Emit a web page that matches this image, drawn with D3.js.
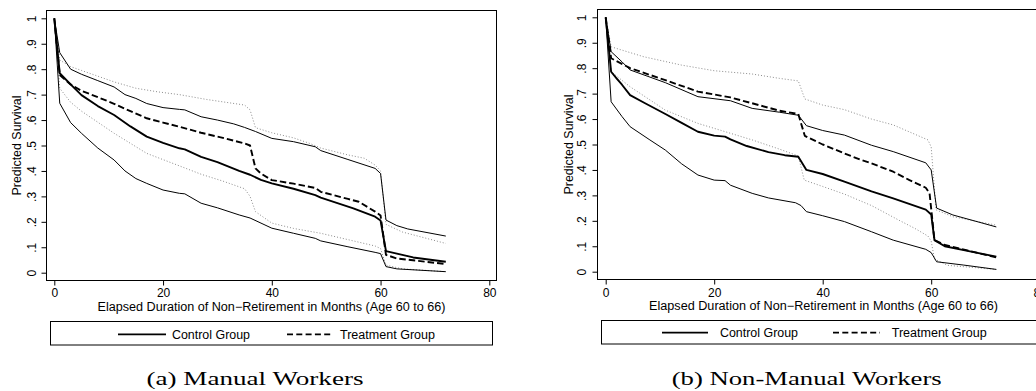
<!DOCTYPE html>
<html>
<head>
<meta charset="utf-8">
<script src="https://cdn.jsdelivr.net/npm/d3@7"></script>
<style>
  html, body { margin: 0; padding: 0; background: #fff; }
  svg { display: block; }
  .sans { font-family: "Liberation Sans", Arial, Helvetica, sans-serif; }
  .serif { font-family: "Liberation Serif", "DejaVu Serif", serif; }
</style>
</head>
<body>
<svg id="chart" width="1036" height="391"></svg>
<script>
// ---------------- DATA ----------------
const xTicks = [0, 20, 40, 60, 80];
const yTicks = [0, .1, .2, .3, .4, .5, .6, .7, .8, .9, 1];
const yTickLabels = ["0", ".1", ".2", ".3", ".4", ".5", ".6", ".7", ".8", ".9", "1"];
const legendLabels = ["Control Group", "Treatment Group"];
const xTitle = "Elapsed Duration of Non\u2212Retirement in Months (Age 60 to 66)";
const yTitle = "Predicted Survival";
const captions = ["(a) Manual Workers", "(b) Non-Manual Workers"];

// Manual workers: [month, predicted survival]
const manualControl = [[0,1],[1,.784],[3,.74],[5,.698],[8,.655],[11,.62],[14,.575],[17,.535],[20,.51],[23,.489],[24,.485],[27,.455],[30,.435],[34,.40],[36,.385],[38,.365],[40,.351],[44,.33],[48,.305],[49,.295],[55,.253],[59,.22],[60,.205],[61,.085],[63,.075],[66,.06],[72,.043]];
const manualControlUpper = [[0,1],[1,.865],[3,.80],[5,.78],[8,.755],[11,.73],[13,.70],[15,.685],[17,.665],[20,.649],[23,.642],[24,.64],[27,.613],[30,.60],[33,.585],[35,.571],[37,.555],[40,.528],[44,.515],[48,.495],[49,.48],[54,.445],[59,.41],[60,.39],[61,.207],[63,.185],[65,.172],[72,.144]];
const manualControlLower = [[0,1],[1,.666],[3,.59],[5,.548],[8,.49],[11,.443],[13,.40],[15,.37],[17,.351],[20,.325],[23,.312],[24,.31],[27,.273],[30,.255],[34,.227],[36,.215],[40,.175],[44,.155],[48,.135],[49,.125],[54,.102],[59,.08],[60,.075],[61,.024],[63,.015],[72,.004]];
const manualTreat = [[0,1],[1,.777],[3,.74],[5,.715],[8,.69],[11,.664],[14,.635],[17,.607],[20,.59],[23,.574],[27,.55],[31,.53],[35,.508],[36,.50],[37,.41],[38,.39],[40,.364],[44,.35],[48,.333],[49,.318],[54,.29],[56,.279],[59,.24],[60,.225],[61,.07],[63,.056],[72,.034]];
const manualTreatUpper = [[0,1],[1,.836],[3,.81],[5,.795],[11,.75],[15,.725],[19,.711],[23,.70],[28,.681],[35,.659],[36,.64],[37,.57],[40,.55],[44,.53],[47,.508],[49,.49],[54,.463],[57,.45],[59,.423],[60,.40],[61,.19],[64,.16],[72,.115]];
const manualTreatLower = [[0,1],[1,.725],[3,.67],[5,.635],[11,.548],[17,.469],[23,.42],[27,.387],[31,.36],[35,.33],[36,.30],[37,.24],[40,.195],[44,.174],[49,.155],[54,.13],[59,.105],[60,.095],[61,.03],[64,.015],[72,.004]];

// Non-manual workers
const nonManualControl = [[0,1],[1,.786],[2,.76],[3,.735],[4.5,.694],[7,.665],[11,.62],[14,.585],[17,.55],[20,.535],[22,.531],[23,.52],[26,.494],[30,.47],[33,.458],[35.5,.452],[37,.40],[40,.384],[44,.354],[49,.316],[53,.288],[59,.244],[60,.225],[60.6,.124],[62.5,.10],[66,.085],[72,.059]];
const nonManualControlUpper = [[0,1],[1,.865],[3,.825],[4.5,.793],[11,.743],[17,.688],[23,.672],[27,.642],[32,.627],[35.5,.615],[37,.574],[40,.555],[44,.537],[49,.497],[53,.472],[59,.428],[60,.40],[61,.25],[64,.223],[72,.176]];
const nonManualControlLower = [[0,1],[1,.668],[3,.61],[4.5,.57],[8,.52],[11,.478],[14,.424],[17,.38],[20,.36],[22,.358],[23,.34],[27,.308],[30,.29],[35,.271],[36,.26],[37,.236],[40,.22],[44,.197],[49,.157],[53,.124],[59,.088],[60,.075],[61,.039],[66,.026],[72,.009]];
const nonManualTreat = [[0,1],[1,.839],[4.5,.80],[11,.753],[17,.708],[23,.685],[27,.662],[32,.633],[35.5,.62],[36.7,.534],[40,.50],[44,.465],[47,.44],[49,.426],[53,.393],[56,.36],[59,.33],[59.7,.308],[60.6,.124],[62.5,.105],[72,.056]];
const nonManualTreatUpper = [[0,1],[1,.884],[7,.845],[14,.812],[20,.79],[27,.777],[32,.76],[35.5,.75],[36.7,.679],[40,.655],[44,.637],[49,.60],[53,.577],[59.4,.518],[60,.49],[60.9,.243],[64,.216],[72,.183]];
const nonManualTreatLower = [[0,1],[1,.786],[4.5,.727],[11,.635],[17,.583],[27,.518],[32,.482],[35.5,.455],[36.6,.36],[40,.335],[44,.305],[49,.26],[54,.203],[57,.17],[59.4,.14],[60,.12],[60.6,.05],[63,.025],[72,.009]];

// ---------------- DRAWING ----------------
const svg = d3.select("#chart");

const panels = [
  { caption: captions[0],
    frame: {x0: 46.5, y0: 10.5, x1: 496.5, y1: 280.5},
    xRange: [54.3, 489.3], yRange: [272.7, 18.3],
    yLabelX: 36, yTitleX: 20.5, xLabelY: 296.7, xTitleY: 310.5, xTitleLen: 348,
    legend: {x0: 50.5, y0: 321.5, x1: 492.5, y1: 345, lineY: 334.3,
             solid: [118, 166], solidText: 172, dashed: [287, 333], dashedText: 340, textY: 338.5},
    captionX: 255, captionY: 385, captionLen: 217,
    series: { control: manualControl, cUp: manualControlUpper, cLo: manualControlLower,
              treat: manualTreat, tUp: manualTreatUpper, tLo: manualTreatLower } },
  { caption: captions[1],
    frame: {x0: 597.5, y0: 9.5, x1: 1049.5, y1: 279.5},
    xRange: [605.7, 1039.7], yRange: [271.7, 17.3],
    yLabelX: 586, yTitleX: 573, xLabelY: 296.5, xTitleY: 310, xTitleLen: 349,
    legend: {x0: 601.5, y0: 320.5, x1: 1044.5, y1: 344, lineY: 332.7,
             solid: [662, 708], solidText: 720, dashed: [833, 880], dashedText: 891.7, textY: 336.5},
    captionX: 806.7, captionY: 385, captionLen: 270,
    series: { control: nonManualControl, cUp: nonManualControlUpper, cLo: nonManualControlLower,
              treat: nonManualTreat, tUp: nonManualTreatUpper, tLo: nonManualTreatLower } }
];

panels.forEach(p => {
  const g = svg.append("g");
  const x = d3.scaleLinear().domain([0, 80]).range(p.xRange);
  const y = d3.scaleLinear().domain([0, 1]).range(p.yRange);
  const f = p.frame;

  // frame
  g.append("rect")
    .attr("x", f.x0).attr("y", f.y0)
    .attr("width", f.x1 - f.x0).attr("height", f.y1 - f.y0)
    .attr("fill", "none").attr("stroke", "#000").attr("stroke-width", 1);

  // x axis
  const xAxis = d3.axisBottom(x).tickValues(xTicks).tickFormat(d3.format("d")).tickSize(5).tickSizeOuter(0);
  const xg = g.append("g").attr("transform", `translate(0,${f.y1})`).call(xAxis);
  xg.select(".domain").remove();
  xg.selectAll(".tick line").attr("stroke", "#000").attr("stroke-width", 1);
  xg.selectAll(".tick text")
    .attr("class", "sans").attr("y", p.xLabelY - f.y1).attr("dy", null)
    .attr("font-size", 12).attr("fill", "#000");

  // y axis
  const yAxis = d3.axisLeft(y).tickValues(yTicks).tickFormat((d, i) => yTickLabels[i]).tickSize(5).tickSizeOuter(0);
  const yg = g.append("g").attr("transform", `translate(${f.x0},0)`).call(yAxis);
  yg.select(".domain").remove();
  yg.selectAll(".tick line").attr("stroke", "#000").attr("stroke-width", 1);
  yg.selectAll(".tick text")
    .attr("class", "sans").attr("x", null).attr("dy", null)
    .attr("transform", `translate(${p.yLabelX - f.x0},0) rotate(-90)`)
    .attr("text-anchor", "middle").attr("font-size", 12).attr("fill", "#000");

  // titles
  g.append("text").attr("class", "sans")
    .attr("x", (f.x0 + f.x1) / 2).attr("y", p.xTitleY)
    .attr("text-anchor", "middle").attr("font-size", 12)
    .attr("textLength", p.xTitleLen).attr("lengthAdjust", "spacingAndGlyphs")
    .text(xTitle);
  g.append("text").attr("class", "sans")
    .attr("transform", `translate(${p.yTitleX},${(y(0) + y(1)) / 2}) rotate(-90)`)
    .attr("text-anchor", "middle").attr("font-size", 12)
    .attr("textLength", 100).attr("lengthAdjust", "spacingAndGlyphs")
    .text(yTitle);

  // lines
  const line = d3.line().x(d => x(d[0])).y(d => y(d[1]));
  const s = p.series;
  const styles = [
    { data: s.tUp, stroke: "#8c8c8c", width: 1, dash: "1,2" },
    { data: s.tLo, stroke: "#8c8c8c", width: 1, dash: "1,2" },
    { data: s.cUp, stroke: "#000", width: 1, dash: null },
    { data: s.cLo, stroke: "#000", width: 1, dash: null },
    { data: s.treat, stroke: "#000", width: 1.9, dash: "6.5,3" },
    { data: s.control, stroke: "#000", width: 1.9, dash: null }
  ];
  styles.forEach(st => {
    g.append("path").datum(st.data)
      .attr("d", line).attr("fill", "none")
      .attr("stroke", st.stroke).attr("stroke-width", st.width)
      .attr("stroke-dasharray", st.dash)
      .attr("stroke-linejoin", "round");
  });

  // legend
  const L = p.legend;
  g.append("rect").attr("x", L.x0).attr("y", L.y0)
    .attr("width", L.x1 - L.x0).attr("height", L.y1 - L.y0)
    .attr("fill", "none").attr("stroke", "#000").attr("stroke-width", 1);
  g.append("line").attr("x1", L.solid[0]).attr("x2", L.solid[1])
    .attr("y1", L.lineY).attr("y2", L.lineY).attr("stroke", "#000").attr("stroke-width", 1.7);
  g.append("line").attr("x1", L.dashed[0]).attr("x2", L.dashed[1])
    .attr("y1", L.lineY).attr("y2", L.lineY).attr("stroke", "#000").attr("stroke-width", 1.7)
    .attr("stroke-dasharray", "6,3.3");
  g.append("text").attr("class", "sans").attr("x", L.solidText).attr("y", L.textY)
    .attr("font-size", 12).attr("textLength", 78).attr("lengthAdjust", "spacingAndGlyphs")
    .text(legendLabels[0]);
  g.append("text").attr("class", "sans").attr("x", L.dashedText).attr("y", L.textY)
    .attr("font-size", 12).attr("textLength", 95).attr("lengthAdjust", "spacingAndGlyphs")
    .text(legendLabels[1]);

  // caption
  g.append("text").attr("class", "serif")
    .attr("x", p.captionX).attr("y", p.captionY)
    .attr("text-anchor", "middle").attr("font-size", 18)
    .attr("textLength", p.captionLen).attr("lengthAdjust", "spacingAndGlyphs")
    .text(p.caption);
});
</script>
</body>
</html>
